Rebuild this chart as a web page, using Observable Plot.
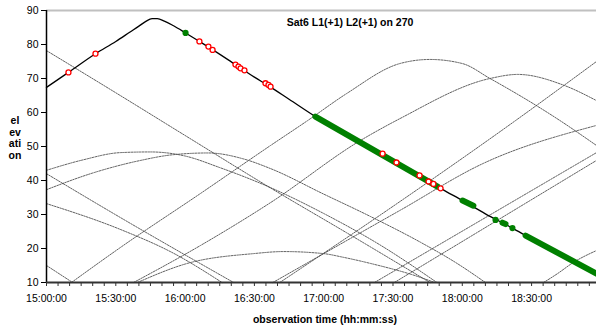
<!DOCTYPE html>
<html><head><meta charset="utf-8">
<script src="https://cdn.jsdelivr.net/npm/d3@7"></script>
<script src="https://cdn.jsdelivr.net/npm/@observablehq/plot@0.6"></script>
<style>
body{margin:0;background:#fff;}
#wrap{position:relative;width:596px;height:332px;font-family:"Liberation Sans",Arial,sans-serif;overflow:hidden;}
.lbl{position:absolute;font-weight:bold;font-size:10.5px;color:#000;white-space:nowrap;transform:translate(-50%,-50%);}
#ytitle{line-height:11.5px;text-align:center;}
</style></head><body>
<div id="wrap"></div>
<script>
// ---- data (x = minutes after 15:00:00, y = elevation in degrees) ----
const chartTitle = "Sat6 L1(+1) L2(+1) on 270";
const xTitle = "observation time (hh:mm:ss)";
const yTitleLines = ["el", "ev", "ati", "on"];

const xTickMinutes = [0, 30, 60, 90, 120, 150, 180, 210];
const xTickLabels = ["15:00:00", "15:30:00", "16:00:00", "16:30:00", "17:00:00", "17:30:00", "18:00:00", "18:30:00"];
const yTicks = [10, 20, 30, 40, 50, 60, 70, 80, 90];

// Sat6 (main) track
const mainTrack = [[0,67.4],[9.5,71.8],[21.2,77.3],[30,80.9],[36,83.6],[40,85.4],[43,86.8],[45.7,87.6],[48,87.6],[51,86.9],[55,85.5],[60.2,83.4],[66.2,80.9],[70,79.3],[80,74.9],[90,70.4],[96,67.9],[105,63.9],[116.4,58.8],[130,53.3],[145.5,47.9],[151.5,45.2],[161.5,41.5],[170.6,37.7],[180.1,34.1],[190,30.2],[201.7,26.0],[207.4,23.8],[220,18.9],[230,15.4],[238.1,12.6]];

// markers on the Sat6 track
const redTimes = [9.5,21.2,66.2,70.1,71.9,81.8,83.1,84.0,85.7,94.8,96.1,97.0,145.5,151.5,161.5,165.4,167.5,170.6];
const redElev  = [71.8,77.3,80.9,79.4,78.4,74.1,73.5,73.0,72.4,68.6,68.1,67.6,47.9,45.3,41.5,39.7,39.0,37.7];
const greenDotTimes = [60.2, 194.4, 201.7];
const greenDotElev  = [83.4, 28.4, 26.0];
const greenRunStart = [[116.4,58.8],[180.1,34.1],[197.4,27.6],[207.4,23.8]];
const greenRunEnd   = [[169.3,38.2],[184.8,32.6],[198.7,27.2],[238.1,12.6]];

// other satellites (thin dotted tracks)
const trackA  = [[0,78.2],[30,65.8],[62,52.4],[97,37.8],[130,24.6],[166,10]];
const trackB  = [[0,43],[16,46.1],[32,48.2],[45,48.4],[60,47.2],[75,43.8],[97,37.9],[120,30.3],[145,20.8],[169,10]];
const trackC  = [[0,37.3],[20,42.2],[40,45.8],[55,47.6],[70,48.1],[85,46.4],[97,43.5],[120,36],[140,29.5],[162,21.8],[178,15.5],[190,10]];
const trackD1 = [[0,42],[32,29.1],[81,10]];
const trackD2 = [[0,33.2],[32,25.6],[55,18.6],[76,10]];
const trackE  = [[0,15],[11.3,10]];
const trackF  = [[10.8,10],[32,20.3],[66.7,36.2],[97,50.3],[113,57.6],[130,65.6],[153,74.4],[166,75.6],[180,74.4],[192,70],[221,58.2],[238.1,50.3]];
const trackG  = [[101,10],[153,33.8],[203,57.6],[238.1,75]];
const trackG2 = [[98,10],[153,31.2],[189,45],[238.1,56.2]];
const trackH  = [[37.7,10],[66.7,20.9],[97,33.5],[136,51.8],[153,58.2],[192,70],[204,71.2],[224,68],[238.1,63.5]];
const trackK1 = [[142,10],[238.1,48.2]];
const trackK2 = [[150.6,10],[238.1,45.9]];
const trackL  = [[39.4,10],[60.9,15.6],[89.7,18.5],[102.6,19.1],[119.9,18.5],[128.6,17.4],[140.3,15.6],[161.9,11.5],[168,10]];
const trackT  = [[215.2,10],[221.2,12.6],[228.1,15.9],[238.1,19.4]];

// ---- build tables for the library ----
const others = {A: trackA, B: trackB, C: trackC, D1: trackD1, D2: trackD2, E: trackE, F: trackF, G: trackG, G2: trackG2, H: trackH, K1: trackK1, K2: trackK2, L: trackL, T: trackT};
const otherRows = Object.entries(others).flatMap(([k, pts]) => pts.map(([t, e]) => ({k, t, e})));
const mainRows = mainTrack.map(([t, e]) => ({t, e}));
const redRows = redTimes.map((t, i) => ({t, e: redElev[i]}));
const greenDots = greenDotTimes.map((t, i) => ({t, e: greenDotElev[i]}));
const greenRuns = greenRunStart.map((s, i) => ({t1: s[0], e1: s[1], t2: greenRunEnd[i][0], e2: greenRunEnd[i][1]}));
const minorTicks = d3.range(0, 240, 5);

const chart = Plot.plot({
  width: 596, height: 332,
  marginLeft: 46, marginRight: 0, marginTop: 10, marginBottom: 50,
  x: {domain: [0, 238.1], label: null},
  y: {domain: [10, 90], label: null},
  style: {fontFamily: "'Liberation Sans', Arial, sans-serif", fontSize: "10.5px", color: "#000", background: "#fff"},
  marks: [
    Plot.ruleY([90], {stroke: "#c0c0c0", strokeWidth: 2}),
    Plot.line(otherRows, {x: "t", y: "e", z: "k", curve: "monotone-x", stroke: "#444", strokeWidth: 0.85, strokeDasharray: "1.6,1.2"}),
    Plot.line(mainRows, {x: "t", y: "e", curve: "monotone-x", stroke: "#000", strokeWidth: 1.3}),
    Plot.link(greenRuns, {x1: "t1", y1: "e1", x2: "t2", y2: "e2", stroke: "#008000", strokeWidth: 6, strokeLinecap: "round"}),
    Plot.dot(greenDots, {x: "t", y: "e", r: 3.1, fill: "#008000", stroke: "none"}),
    Plot.dot(redRows, {x: "t", y: "e", r: 2.5, fill: "#fff", stroke: "#ff0000", strokeWidth: 1.3}),
    Plot.ruleX([0], {stroke: "#000", strokeWidth: 1.5}),
    Plot.ruleY([10], {stroke: "#333", strokeWidth: 2}),
    Plot.axisY({ticks: yTicks, tickSize: 5, tickPadding: 3, stroke: "#000"}),
    Plot.axisX({ticks: minorTicks, tickSize: 4, tickFormat: () => "", stroke: "#333"}),
    Plot.axisX({ticks: xTickMinutes, tickSize: 0, tickPadding: 12, tickFormat: d => xTickLabels[xTickMinutes.indexOf(d)]})
  ]
});

const wrap = document.getElementById("wrap");
wrap.appendChild(chart);

function addLabel(html, x, y, id) {
  const d = document.createElement("div");
  d.className = "lbl";
  if (id) d.id = id;
  d.innerHTML = html;
  d.style.left = x + "px";
  d.style.top = y + "px";
  wrap.appendChild(d);
}
addLabel(chartTitle, 350, 22);
addLabel(xTitle, 325, 319);
addLabel(yTitleLines.join("<br>"), 15, 138, "ytitle");
</script>
</body></html>
